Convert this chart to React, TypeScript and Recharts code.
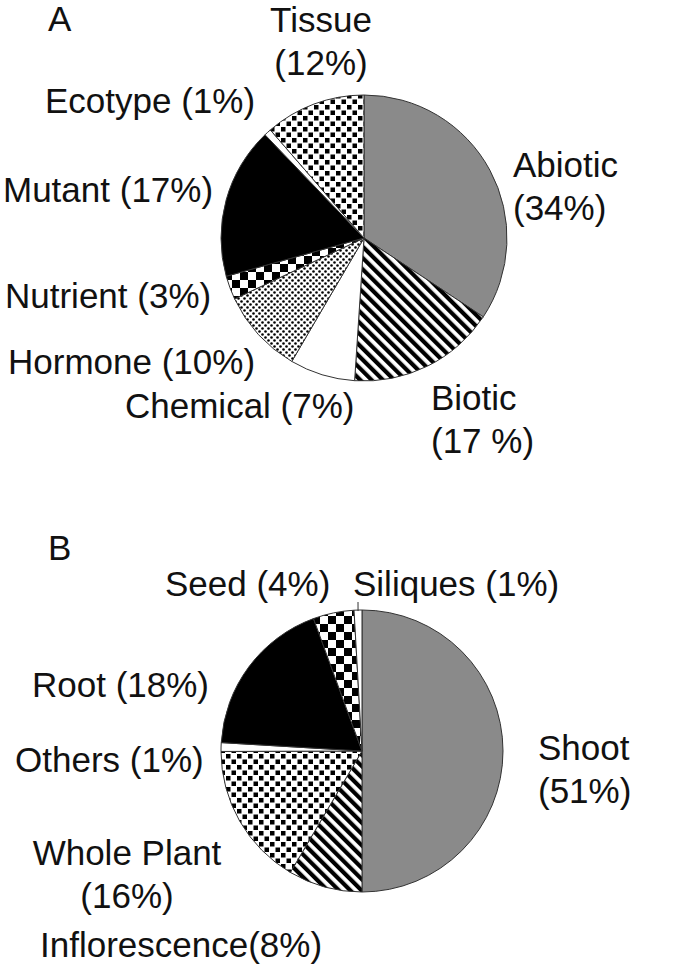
import { PieChart, Pie, Cell } from "recharts";

// panel A: experiment type
const namesA = ["Abiotic", "Biotic", "Chemical", "Hormone", "Nutrient", "Mutant", "Ecotype", "Tissue"];
const valuesA = [34.4, 16.8, 7.4, 9.6, 2.7, 17.2, 0.8, 11.4];
const labelsA = [
  ["Abiotic", "(34%)"],
  ["Biotic", "(17 %)"],
  ["Chemical (7%)"],
  ["Hormone (10%)"],
  ["Nutrient (3%)"],
  ["Mutant (17%)"],
  ["Ecotype (1%)"],
  ["Tissue", "(12%)"],
];

// panel B: tissue source
const namesB = ["Shoot", "Inflorescence", "Whole Plant", "Others", "Root", "Seed", "Siliques"];
const valuesB = [50.1, 8.5, 16.5, 1.0, 18.5, 4.7, 0.9];
const labelsB = [
  ["Shoot", "(51%)"],
  ["Inflorescence(8%)"],
  ["Whole Plant", "(16%)"],
  ["Others (1%)"],
  ["Root (18%)"],
  ["Seed (4%)"],
  ["Siliques (1%)"],
];

const fillsA = ["#8a8a8a", "url(#stripes)", "#fff", "url(#dots)", "url(#checker)", "#000", "#fff", "url(#squares)"];
const fillsB = ["#8a8a8a", "url(#stripes)", "url(#squares)", "#fff", "#000", "url(#checker)", "#fff"];

type Pos = { x: number; y: number; anchor: "start" | "middle"; lx?: number; ly?: number };

const posA: Pos[] = [
  { x: 513, y: 177, anchor: "start" },
  { x: 431, y: 410, anchor: "start" },
  { x: 125, y: 418, anchor: "start" },
  { x: 8, y: 374, anchor: "start" },
  { x: 5, y: 308, anchor: "start" },
  { x: 3, y: 202, anchor: "start" },
  { x: 45, y: 113, anchor: "start" },
  { x: 321, y: 32, anchor: "middle" },
];

const posB: Pos[] = [
  { x: 538, y: 760, anchor: "start" },
  { x: 40, y: 957, anchor: "start" },
  { x: 127, y: 865, anchor: "middle" },
  { x: 15, y: 772, anchor: "start" },
  { x: 32, y: 697, anchor: "start" },
  { x: 165, y: 596, anchor: "start" },
  { x: 353, y: 596, anchor: "start", lx: 358, ly: 602 },
];

const FONT = "'Liberation Sans', Arial, sans-serif";
const RAD = Math.PI / 180;

function makeLabel(labels: string[][], pos: Pos[]) {
  return (p: any) => {
    const i = p.index;
    const q = pos[i];
    let line = null;
    if (q.lx !== undefined) {
      const r = p.outerRadius - 1;
      const sx = p.cx + r * Math.cos(-p.midAngle * RAD);
      const sy = p.cy + r * Math.sin(-p.midAngle * RAD);
      line = <line x1={sx} y1={sy} x2={q.lx} y2={q.ly} stroke="#333" strokeWidth={1} />;
    }
    return (
      <g>
        {line}
        <text x={q.x} y={q.y} textAnchor={q.anchor} fontFamily={FONT} fontSize={35} fill="#111">
          {labels[i].map((t, k) => (
            <tspan key={k} x={q.x} dy={k === 0 ? 0 : 43}>
              {t}
            </tspan>
          ))}
        </text>
      </g>
    );
  };
}

export default function App() {
  const dataA = namesA.map((name, i) => ({ name, value: valuesA[i] }));
  const dataB = namesB.map((name, i) => ({ name, value: valuesB[i] }));
  return (
    <div style={{ position: "absolute", left: 0, top: 0, width: 685, height: 979, background: "#fff" }}>
      <PieChart width={685} height={979} margin={{ top: 0, right: 0, bottom: 0, left: 0 }}>
        <defs>
          <pattern id="stripes" width="8" height="8" patternUnits="userSpaceOnUse" patternTransform="rotate(-45)">
            <rect width="8" height="8" fill="#fff" />
            <rect width="4.2" height="8" fill="#000" />
          </pattern>
          <pattern id="dots" width="6" height="6" patternUnits="userSpaceOnUse">
            <rect width="6" height="6" fill="#fff" />
            <circle cx="1.5" cy="1.5" r="1.3" fill="#000" />
            <circle cx="4.5" cy="4.5" r="1.3" fill="#000" />
          </pattern>
          <pattern id="checker" width="16" height="16" patternUnits="userSpaceOnUse">
            <rect width="16" height="16" fill="#fff" />
            <rect width="8" height="8" fill="#000" />
            <rect x="8" y="8" width="8" height="8" fill="#000" />
          </pattern>
          <pattern id="squares" width="11" height="11" patternUnits="userSpaceOnUse">
            <rect width="11" height="11" fill="#fff" />
            <rect x="0.5" y="0.5" width="4.5" height="4.5" fill="#000" />
            <rect x="6" y="6" width="4.5" height="4.5" fill="#000" />
          </pattern>
        </defs>
        <text x={48} y={31} fontFamily={FONT} fontSize={35} fill="#111">A</text>
        <text x={48} y={560} fontFamily={FONT} fontSize={35} fill="#111">B</text>
        <Pie
          data={dataA}
          dataKey="value"
          cx={364}
          cy={238}
          outerRadius={143}
          startAngle={90}
          endAngle={-270}
          stroke="#333"
          strokeWidth={1}
          label={makeLabel(labelsA, posA)}
          labelLine={false}
          isAnimationActive={false}
        >
          {dataA.map((d, i) => (
            <Cell key={d.name} fill={fillsA[i]} />
          ))}
        </Pie>
        <Pie
          data={dataB}
          dataKey="value"
          cx={362}
          cy={751}
          outerRadius={141}
          startAngle={90}
          endAngle={-270}
          stroke="#333"
          strokeWidth={1}
          label={makeLabel(labelsB, posB)}
          labelLine={false}
          isAnimationActive={false}
        >
          {dataB.map((d, i) => (
            <Cell key={d.name} fill={fillsB[i]} />
          ))}
        </Pie>
      </PieChart>
    </div>
  );
}
